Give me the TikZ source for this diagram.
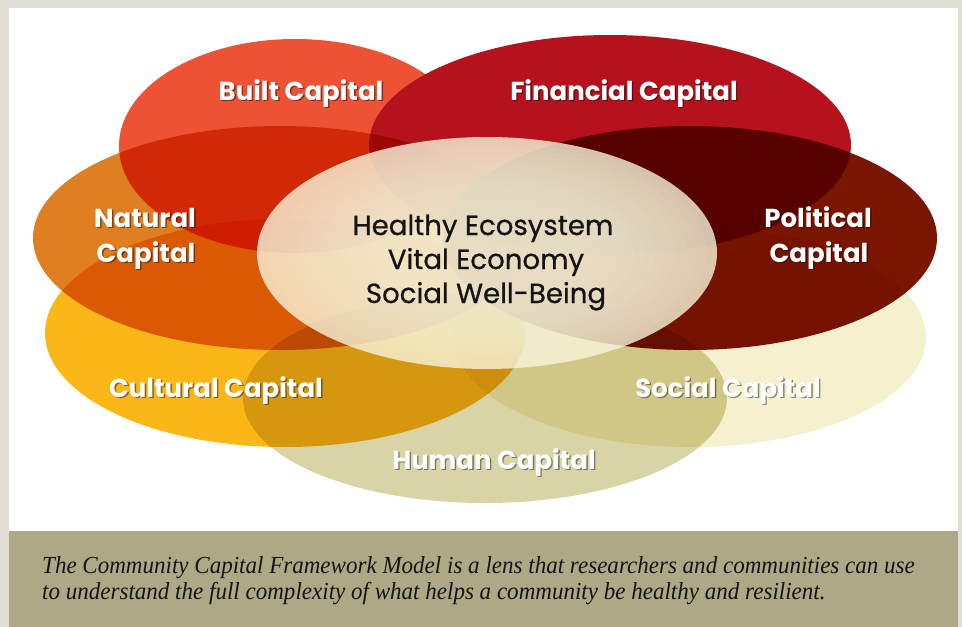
\documentclass[tikz,border=0pt]{standalone}
\usepackage{fontspec}
\setmainfont{Poppins}
\newfontfamily\capfont[FakeStretch=0.94]{Liberation Serif}
\newfontfamily\cenfont[FakeBold=0.7]{Poppins}
\definecolor{framebg}{HTML}{E0DED2}
\definecolor{band}{HTML}{ADA986}
\definecolor{builtc}{HTML}{EE5234}
\definecolor{finc}{HTML}{B5121E}
\definecolor{natc}{HTML}{E07E22}
\definecolor{polc}{HTML}{7A1500}
\definecolor{culc}{HTML}{FBB618}
\definecolor{socc}{HTML}{F5F0CE}
\definecolor{humc}{HTML}{D9D4A6}
\definecolor{cream}{HTML}{F8F4D9}
\definecolor{ink}{HTML}{141414}
\tikzset{
  lab/.style={font=\fontsize{26}{30}\selectfont\bfseries, text=white, inner sep=0pt, anchor=base},
  labsh/.style={font=\fontsize{26}{30}\selectfont\bfseries, text=black, text opacity=0.45, inner sep=0pt, anchor=base},
  ctext/.style={font=\cenfont\fontsize{27.6}{30}\selectfont, text=ink, inner sep=0pt, anchor=base},
  captext/.style={font=\capfont\itshape\fontsize{24.5}{28}\selectfont, text=ink, inner sep=0pt, anchor=base west},
}
\newcommand\lbl[4]{%
  \node[labsh] (#1s) at ({#2+1.4},{#3+1.6}) {#4};
  \node[lab] (#1) at (#2,#3) {#4};}
\begin{document}
\begin{tikzpicture}[x=1pt,y=-1pt]
\useasboundingbox (0,0) rectangle (962,627);
\fill[framebg] (0,0) rectangle (962,627);
\fill[white] (9,8) rectangle (958,531);
\fill[band] (9,531) rectangle (958,627);
% capital ellipses
\fill[builtc] (295,146) ellipse [x radius=176, y radius=107];
\fill[finc] (610,145) ellipse [x radius=241, y radius=110];
\begin{scope}[blend mode=multiply]
\fill[natc] (280,238) ellipse [x radius=247, y radius=112];
\fill[polc] (690,238) ellipse [x radius=247, y radius=112];
\fill[culc] (285,333) ellipse [x radius=240, y radius=114];
\fill[socc] (690,337) ellipse [x radius=236, y radius=110];
\fill[humc] (485,398) ellipse [x radius=242, y radius=105];
\end{scope}
% centre ellipse
\fill[cream, opacity=0.8] (487,253) ellipse [x radius=230, y radius=116];
\foreach \i in {1,...,12}{
  \pgfmathsetmacro\sc{1-0.045*\i}
  \fill[cream, opacity=0.07] (487,253) ellipse [x radius={230*\sc}, y radius={116*\sc}];
}
% labels
\lbl{built}{301}{100}{Built Capital}
\lbl{fin}{624}{100}{Financial Capital}
\lbl{nat1}{145}{227}{Natural}
\lbl{nat2}{146}{262}{Capital}
\lbl{pol1}{818}{227}{Political}
\lbl{pol2}{819}{262}{Capital}
\lbl{cul}{216}{397}{Cultural Capital}
\lbl{soc}{728}{397}{Social Capital}
\lbl{hum}{494}{469}{Human Capital}
\node[ctext] (c1) at (483,235) {Healthy Ecosystem};
\node[ctext] (c2) at (486,269) {Vital Economy};
\node[ctext] (c3) at (486,303) {Social Well-Being};
% caption
\node[captext] (cap1) at (42,573) {The Community Capital Framework Model is a lens that researchers and communities can use};
\node[captext] (cap2) at (42,599) {to understand the full complexity of what helps a community be healthy and resilient.};
\end{tikzpicture}
\end{document}
